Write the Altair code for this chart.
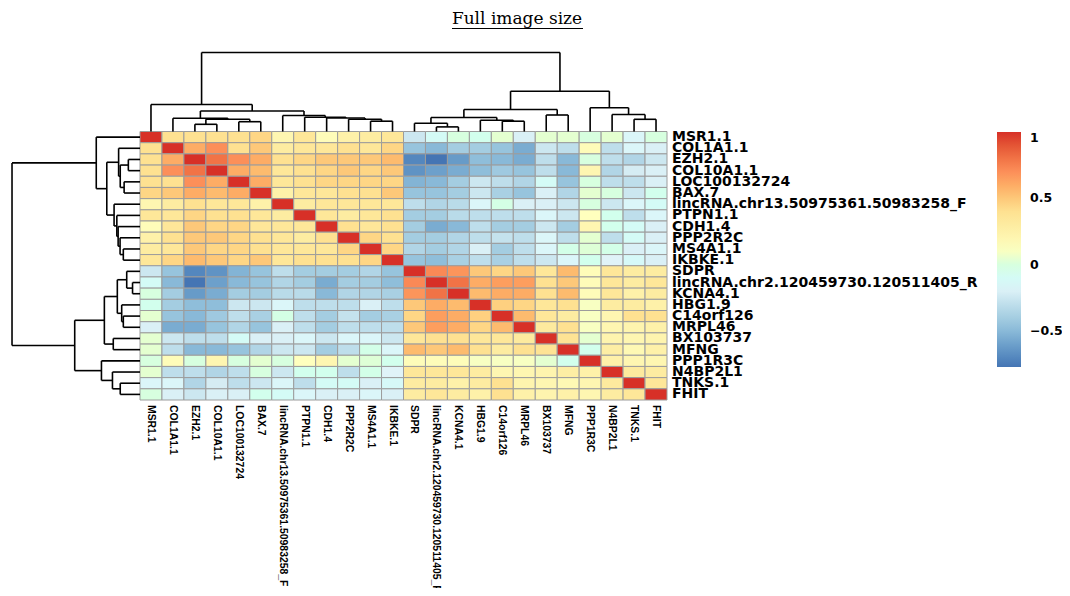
import altair as alt
import pandas as pd
import numpy as np

# ---------------- data ----------------
labels = ["MSR1.1", "COL1A1.1", "EZH2.1", "COL10A1.1", "LOC100132724", "BAX.7",
          "lincRNA.chr13.50975361.50983258_F", "PTPN1.1", "CDH1.4", "PPP2R2C",
          "MS4A1.1", "IKBKE.1", "SDPR", "lincRNA.chr2.120459730.120511405_R",
          "KCNA4.1", "HBG1.9", "C14orf126", "MRPL46", "BX103737", "MFNG",
          "PPP1R3C", "N4BP2L1", "TNKS.1", "FHIT"]

r_MSR1 = [1, .4, .4, .4, .4, .45, .2, .35, .15, .25, .3, .35, -.25, -.1, 0, -.05, .05, -.2, .05, .05, 0, .05, -.15, 0]
r_COL1A1 = [.4, 1, .6, .7, .4, .5, .3, .35, .35, .4, .35, .45, -.45, -.5, -.4, -.4, -.45, -.55, -.25, -.3, .15, -.3, -.15, -.2]
r_EZH2 = [.4, .6, 1, .8, .7, .6, .4, .45, .5, .5, .5, .55, -.7, -.77, -.62, -.48, -.5, -.55, -.3, -.5, 0, -.3, -.35, -.25]
r_COL10A1 = [.4, .7, .8, 1, .6, .55, .35, .4, .45, .5, .45, .5, -.65, -.6, -.55, -.48, -.42, -.45, -.3, -.5, .2, -.35, -.22, -.2]
r_LOC = [.4, .4, .7, .6, 1, .6, .35, .4, .45, .45, .45, .45, -.52, -.5, -.4, -.25, -.3, -.35, -.1, -.45, 0, -.3, -.3, -.2]
r_BAX = [.45, .5, .6, .55, .6, 1, .25, .35, .35, .4, .4, .5, -.45, -.45, -.4, -.25, -.38, -.45, -.2, -.35, .05, 0, -.25, -.05]
r_LINC13 = [.2, .3, .4, .35, .35, .25, 1, .3, .35, .35, .35, .35, -.3, -.35, -.32, -.15, -.02, -.2, -.2, -.25, 0, -.25, -.15, -.1]
r_PTPN1 = [.35, .35, .45, .4, .4, .35, .3, 1, .35, .3, .35, .4, -.4, -.4, -.32, -.3, -.3, -.3, -.15, -.25, .12, -.05, -.3, -.15]
r_CDH1 = [.15, .35, .5, .45, .45, .35, .35, .35, 1, .4, .35, .4, -.4, -.55, -.5, -.3, -.4, -.4, -.25, -.4, .2, -.05, -.1, -.2]
r_PPP2R2C = [.25, .4, .5, .5, .45, .4, .35, .3, .4, 1, .45, .4, -.4, -.4, -.35, -.3, -.28, -.3, -.15, -.3, .05, -.3, -.1, -.2]
r_MS4A1 = [.3, .35, .5, .45, .45, .4, .35, .35, .35, .45, 1, .45, -.35, -.4, -.35, -.2, -.4, -.3, -.15, -.03, .03, -.03, -.2, -.15]
r_IKBKE = [.35, .45, .55, .5, .45, .5, .35, .4, .4, .4, .45, 1, -.45, -.48, -.38, -.3, -.38, -.3, -.25, -.15, -.05, -.18, -.12, -.2]
r_SDPR = [-.25, -.45, -.7, -.65, -.52, -.45, -.3, -.4, -.4, -.4, -.35, -.45, 1, .72, .68, .5, .45, .5, .35, .55, .15, .35, .3, .3]
r_LINC2 = [-.1, -.5, -.77, -.6, -.5, -.45, -.35, -.4, -.55, -.4, -.4, -.48, .72, 1, .8, .6, .65, .65, .4, .5, .15, .35, .3, .35]
r_KCNA4 = [0, -.4, -.62, -.55, -.4, -.4, -.32, -.32, -.5, -.35, -.35, -.38, .68, .8, 1, .55, .6, .6, .4, .55, .15, .35, .25, .3]
r_HBG1 = [-.05, -.4, -.48, -.48, -.25, -.25, -.15, -.3, -.3, -.3, -.2, -.3, .5, .6, .55, 1, .47, .45, .35, .4, .1, .3, .3, .25]
r_C14 = [.05, -.45, -.5, -.42, -.3, -.38, -.02, -.3, -.4, -.28, -.4, -.38, .45, .65, .6, .47, 1, .55, .35, .3, .1, .2, .4, .4]
r_MRPL46 = [-.2, -.55, -.55, -.45, -.35, -.45, -.2, -.3, -.4, -.3, -.3, -.3, .5, .65, .6, .45, .55, 1, .32, .4, .1, .2, .22, .25]
r_BX = [.05, -.25, -.3, -.3, -.1, -.2, -.2, -.15, -.25, -.15, -.15, -.25, .35, .4, .4, .35, .35, .32, 1, .38, .05, .22, .2, .22]
r_MFNG = [.05, -.3, -.5, -.5, -.45, -.35, -.25, -.25, -.4, -.3, -.03, -.15, .55, .5, .55, .4, .3, .4, .38, 1, -.05, .28, .18, .25]
r_PPP1R3C = [0, .15, 0, .2, 0, .05, 0, .12, .2, .05, .03, -.05, .15, .15, .15, .1, .1, .1, .05, -.05, 1, .25, .2, .2]
r_N4BP2L1 = [.05, -.3, -.3, -.35, -.3, 0, -.25, -.05, -.05, -.3, -.03, -.18, .35, .35, .35, .3, .2, .2, .22, .28, .25, 1, .32, .3]
r_TNKS = [-.15, -.15, -.35, -.22, -.3, -.25, -.15, -.3, -.1, -.1, -.2, -.12, .3, .3, .25, .3, .4, .22, .2, .18, .2, .32, 1, .35]
r_FHIT = [0, -.2, -.25, -.2, -.2, -.05, -.1, -.15, -.2, -.2, -.15, -.2, .3, .35, .3, .25, .4, .25, .22, .25, .2, .3, .35, 1]

corr_rows = [r_MSR1, r_COL1A1, r_EZH2, r_COL10A1, r_LOC, r_BAX, r_LINC13, r_PTPN1,
             r_CDH1, r_PPP2R2C, r_MS4A1, r_IKBKE, r_SDPR, r_LINC2, r_KCNA4, r_HBG1,
             r_C14, r_MRPL46, r_BX, r_MFNG, r_PPP1R3C, r_N4BP2L1, r_TNKS, r_FHIT]

# hierarchical clustering merges (hclust style: negative = leaf, positive = earlier merge)
merge_a = [-3, -5, 1, -2, -11, -10, -9, -8, -7, 4, -1, -14, -13, -17, -16, 13, -19, 16, -23, -22, -21, 18, 11]
merge_b = [-4, -6, 2, 3, -12, 5, 6, 7, 8, 9, 10, -15, 12, -18, 14, 15, -20, 17, -24, 19, 20, 21, 22]
merge_h = [7.2, 9.8, 12.2, 13.2, 10.3, 12.3, 13.5, 14.3, 16.0, 20.5, 27.0, 4.6, 8.2, 10.3, 11.3,
           14.0, 16.5, 22.0, 12.2, 17.0, 23.8, 40.3, 79.0]

legend_values = [-0.5, 0, 0.5, 1]
color_min, color_max = -0.77, 1.0
palette = ["#4575B4", "#91BFDB", "#E0F3F8", "#FFFFBF", "#FEE090", "#FC8D59", "#D73027"]

# ---------------- layout constants ----------------
N = len(labels)
PLOT_W, PLOT_H = 527, 268.5
CELL_W, CELL_H = PLOT_W / N, PLOT_H / N
TOP_PX = 1.0    # px per height unit (column dendrogram)
LEFT_PX = 1.62  # px per height unit (row dendrogram)
SANS = "Liberation Sans"
WIDE = "DejaVu Sans"

# ---------------- build tables ----------------
cells = []
for i, row in enumerate(corr_rows):
    for j, v in enumerate(row):
        cells.append({"row": i, "col": j, "r2": i + 1, "c2": j + 1, "value": v,
                      "rl": labels[i], "cl": labels[j]})
cells = pd.DataFrame(cells)


def dendro_segments(ma, mb, mh):
    pos, hgt = {}, {}

    def node(c):
        if c < 0:
            return (-c - 1) + 0.5, 0.0
        return pos[c], hgt[c]

    segs = []
    for k, (a, b, h) in enumerate(zip(ma, mb, mh), start=1):
        pa, ha = node(a)
        pb, hb = node(b)
        segs.append((pa, pa, ha, h))
        segs.append((pb, pb, hb, h))
        segs.append((pa, pb, h, h))
        pos[k] = (pa + pb) / 2
        hgt[k] = h
    return segs


segs = dendro_segments(merge_a, merge_b, merge_h)
top_df = pd.DataFrame([{"x": p1, "x2": p2, "y": -h1 * TOP_PX / CELL_H, "y2": -h2 * TOP_PX / CELL_H}
                       for p1, p2, h1, h2 in segs])
left_df = pd.DataFrame([{"y": p1, "y2": p2, "x": -h1 * LEFT_PX / CELL_W, "x2": -h2 * LEFT_PX / CELL_W}
                        for p1, p2, h1, h2 in segs])

row_lab = pd.DataFrame({"label": labels, "y": [i + 0.5 for i in range(N)], "x": [N] * N})
col_lab = pd.DataFrame({"label": labels, "x": [i + 0.5 for i in range(N)], "y": [N] * N})

xs = alt.Scale(domain=[0, N], nice=False, zero=False)
ys = alt.Scale(domain=[0, N], nice=False, zero=False, reverse=True)

stops = list(np.linspace(color_min, color_max, len(palette)))
color_scale = alt.Scale(domain=stops, range=palette, clamp=True)

heat = alt.Chart(cells).mark_rect(stroke="#9C9C9C", strokeWidth=1).encode(
    x=alt.X("col:Q", scale=xs, axis=None),
    x2="c2:Q",
    y=alt.Y("row:Q", scale=ys, axis=None),
    y2="r2:Q",
    color=alt.Color("value:Q", scale=color_scale,
                    legend=alt.Legend(title=None, orient="none", legendX=857, legendY=0.5,
                                      direction="vertical", gradientLength=235,
                                      gradientThickness=24, gradientStrokeWidth=0,
                                      values=legend_values, format="~g",
                                      labelFont=WIDE, labelFontWeight="bold",
                                      labelFontSize=12.5, labelColor="black",
                                      labelOffset=9, padding=0)),
)

top_dendro = alt.Chart(top_df).mark_rule(color="black", strokeWidth=1.6).encode(
    x=alt.X("x:Q", scale=xs, axis=None), x2="x2:Q",
    y=alt.Y("y:Q", scale=ys, axis=None), y2="y2:Q",
)

left_dendro = alt.Chart(left_df).mark_rule(color="black", strokeWidth=1.6).encode(
    x=alt.X("x:Q", scale=xs, axis=None), x2="x2:Q",
    y=alt.Y("y:Q", scale=ys, axis=None), y2="y2:Q",
)

row_text = alt.Chart(row_lab).mark_text(
    align="left", baseline="middle", dx=5, font=WIDE, fontWeight="bold",
    fontSize=14, color="black"
).encode(
    x=alt.X("x:Q", scale=xs, axis=None),
    y=alt.Y("y:Q", scale=ys, axis=None),
    text="label:N",
)

col_text = alt.Chart(col_lab).mark_text(
    align="left", baseline="middle", angle=90, dx=5, font=SANS, fontWeight="bold",
    fontSize=10.4, color="black"
).encode(
    x=alt.X("x:Q", scale=xs, axis=None),
    y=alt.Y("y:Q", scale=ys, axis=None),
    text="label:N",
)

title_text = alt.Chart(pd.DataFrame({"t": ["Full image size"]})).mark_text(
    align="center", baseline="middle", font="DejaVu Serif", fontSize=17, color="black"
).encode(x=alt.value(377), y=alt.value(-112.5), text="t:N")

title_line = alt.Chart(pd.DataFrame({"t": [0]})).mark_rule(color="black", strokeWidth=1).encode(
    x=alt.value(312), x2=alt.value(443), y=alt.value(-103)
)

chart = alt.layer(heat, top_dendro, left_dendro, row_text, col_text, title_text, title_line).properties(
    width=PLOT_W, height=PLOT_H,
    autosize=alt.AutoSizeParams(type="none"),
    padding={"left": 132, "top": 123.5, "right": 1054 - 132 - PLOT_W, "bottom": 580 - 123.5 - PLOT_H},
    background="white",
).configure_view(stroke=None)

chart.save("out.html", embed_options={"renderer": "svg", "actions": False})
